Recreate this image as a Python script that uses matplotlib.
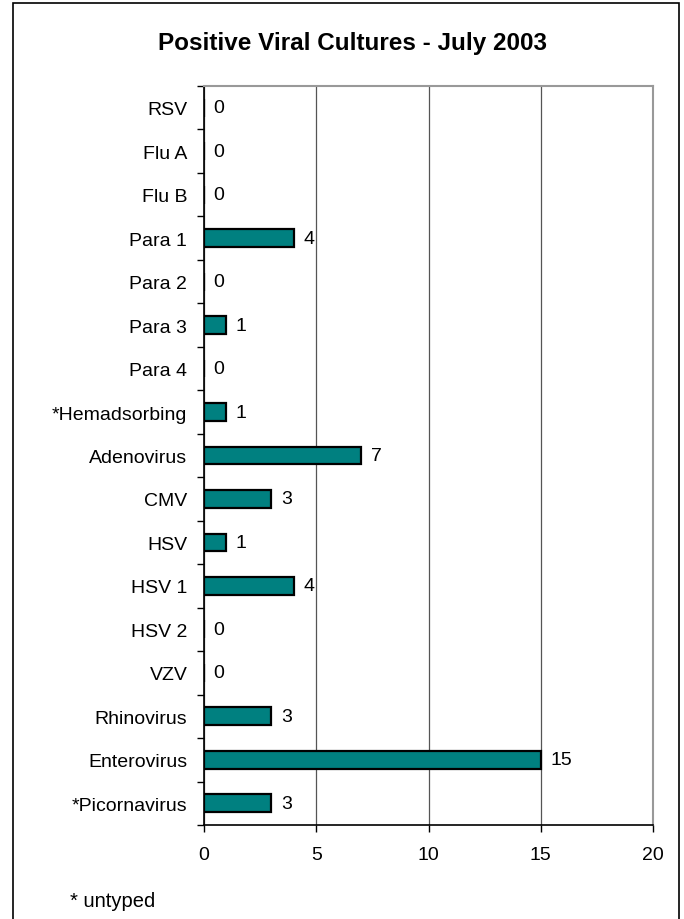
import matplotlib
matplotlib.use("Agg")
import matplotlib.pyplot as plt
from matplotlib.patches import Rectangle

categories = ["RSV", "Flu A", "Flu B", "Para 1", "Para 2", "Para 3", "Para 4",
              "*Hemadsorbing", "Adenovirus", "CMV", "HSV", "HSV 1", "HSV 2",
              "VZV", "Rhinovirus", "Enterovirus", "*Picornavirus"]
values = [0, 0, 0, 4, 0, 1, 0, 1, 7, 3, 1, 4, 0, 0, 3, 15, 3]
xticks = [0, 5, 10, 15, 20]

plt.rcParams['font.family'] = ['Liberation Sans', 'DejaVu Sans']

W, H = 684, 920
fig = plt.figure(figsize=(W / 100, H / 100), dpi=100)
fig.patches.append(Rectangle((13 / W, 1 - 930 / H), 666 / W, 926 / H, transform=fig.transFigure,
                             fill=False, edgecolor='black', linewidth=1.2))

ax = fig.add_axes([204 / W, 1 - 826 / H, (653 - 204) / W, (826 - 87) / H])
n = len(categories)
ypos = list(range(n))
ax.barh(ypos, values, height=0.41, color='#008080', edgecolor='black', linewidth=1.6, zorder=3)
for y, v in zip(ypos, values):
    ax.text(v + 0.42, y, str(v), va='center', ha='left', fontsize=14, zorder=4)

ax.set_xlim(0, 20)
ax.set_ylim(n - 0.5, -0.5)
ax.set_xticks(xticks)
ax.set_xticklabels([str(t) for t in xticks], fontsize=14)
ax.set_yticks(ypos)
ax.set_yticklabels(categories, fontsize=14)
ax.tick_params(axis='y', which='major', length=0, pad=12)
ax.set_yticks([i - 0.5 for i in range(n + 1)], minor=True)
ax.tick_params(axis='y', which='minor', length=5, width=1, direction='out')
ax.tick_params(axis='x', which='major', length=5, width=1, direction='out', pad=10)
ax.xaxis.grid(True, color='#555555', linewidth=0.9, zorder=0)
for s in ['top', 'right']:
    ax.spines[s].set_color('#999999')
    ax.spines[s].set_linewidth(1.5)
ax.spines['left'].set_linewidth(1.2)
ax.spines['bottom'].set_linewidth(1.2)

fig.text(352 / W, 1 - 50 / H, "Positive Viral Cultures - July 2003", ha='center', va='baseline',
         fontsize=17.5, fontweight='bold')
fig.text(70 / W, 1 - 907 / H, "* untyped", ha='left', va='baseline', fontsize=14.5)

fig.savefig("out.png", dpi=100)
